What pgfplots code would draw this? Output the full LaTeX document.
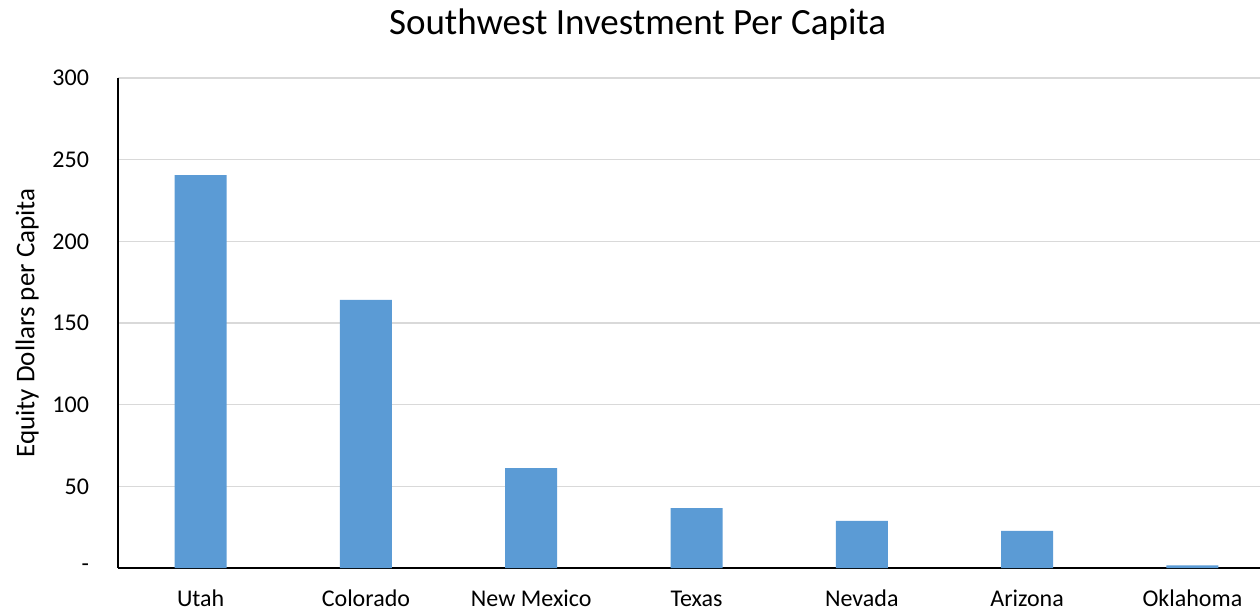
\documentclass[border=0pt]{standalone}
\usepackage{pgfplots}
\pgfplotsset{compat=1.18}
\usepackage{fontspec}
\setmainfont{Carlito}
\definecolor{barblue}{HTML}{5B9BD5}
\definecolor{gridgray}{HTML}{D9D9D9}
\begin{document}
\begin{tikzpicture}
\begin{axis}[
  name=ax,
  scale only axis,
  width=571pt, height=245pt,
  ybar, bar width=26pt,
  xmin=-0.5, xmax=6.409,
  ymin=0, ymax=300,
  ytick={0,50,...,300},
  yticklabels={-,50,100,150,200,250,300},
  xtick=data,
  xticklabels={Utah,Colorado,New Mexico,Texas,Nevada,Arizona,Oklahoma},
  axis x line*=bottom, axis y line*=left,
  axis line style={black, line width=0.8pt, -},
  major tick length=0pt,
  ymajorgrids, grid style={gridgray, line width=0.8pt},
  tick label style={font=\fontsize{12}{14}\selectfont, /pgf/number format/assume math mode=true},
  yticklabel style={xshift=-11pt},
  xticklabel style={yshift=-8.5pt, text height=0.7em, text depth=0.1em},
  ylabel={Equity Dollars per Capita},
  ylabel shift=0pt,
  ylabel style={font=\fontsize{13.5}{16}\selectfont},
  title={Southwest Investment Per Capita},
  title style={font=\fontsize{18.5}{22}\selectfont, at={(rel axis cs:0.455,1)}, yshift=9pt},
]
\addplot[fill=barblue, draw=none] coordinates {(0,240.6) (1,164.1) (2,61.2) (3,36.7) (4,28.8) (5,22.7) (6,1.6)};
\end{axis}
\pgfresetboundingbox
\path ([shift={(-59pt,-22pt)}]ax.south west) rectangle ([shift={(0pt,39pt)}]ax.north east);
\end{tikzpicture}
\end{document}
